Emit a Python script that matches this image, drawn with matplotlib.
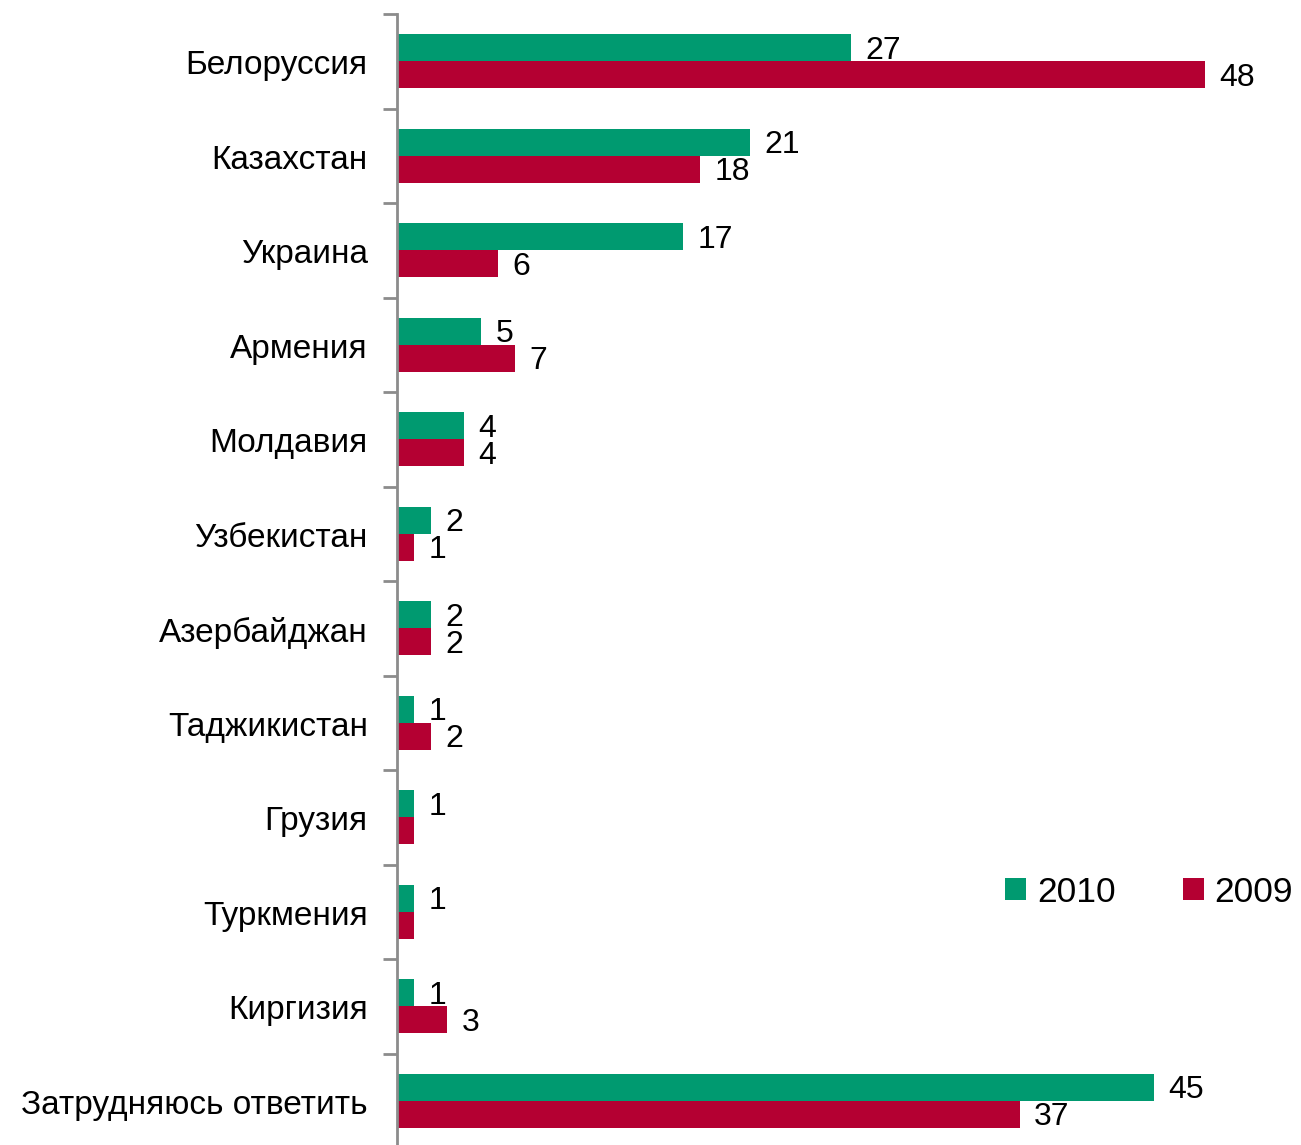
import matplotlib.pyplot as plt
import numpy as np

countries = ["Белоруссия", "Казахстан", "Украина", "Армения", "Молдавия",
             "Узбекистан", "Азербайджан", "Таджикистан", "Грузия",
             "Туркмения", "Киргизия", "Затрудняюсь ответить"]
vals_2010 = [27, 21, 17, 5, 4, 2, 2, 1, 1, 1, 1, 45]
vals_2009 = [48, 18, 6, 7, 4, 1, 2, 2, 1, 1, 3, 37]
# labels that are shown on the 2009 bars (some are hidden in the original)
labels_2009 = ["48", "18", "6", "7", "4", "1", "2", "2", None, None, "3", "37"]

green = "#009a70"
red = "#b40032"

plt.rcParams['font.family'] = ['Liberation Sans', 'DejaVu Sans']

fig = plt.figure(figsize=(13.01, 11.45), dpi=100)
ax = fig.add_axes([397 / 1301, -3 / 1145, 1 - 397 / 1301, 1134 / 1145])

y = np.arange(len(countries))
h = 0.285
ax.barh(y - h / 2, vals_2010, height=h, color=green, label="2010")
ax.barh(y + h / 2, vals_2009, height=h, color=red, label="2009")

fs = 24
dy = 0.03
for i in range(len(countries)):
    ax.text(vals_2010[i] + 0.85, y[i] - h / 2 + dy, str(vals_2010[i]),
            va="center", ha="left", fontsize=23)
    if labels_2009[i] is not None:
        ax.text(vals_2009[i] + 0.85, y[i] + h / 2 + dy, labels_2009[i],
                va="center", ha="left", fontsize=23)

ax.set_xlim(0, 904 / 16.83)
ax.set_ylim(len(countries) - 0.5, -0.5)
ax.set_xticks([])
ax.set_yticks(y + 0.01)
ax.set_yticklabels(countries, fontsize=fs)
ax.tick_params(axis="y", which="major", length=0, pad=21)
ax.set_yticks(np.arange(-0.5, len(countries), 1), minor=True)
ax.tick_params(axis="y", which="minor", length=10, width=2, color="#8c8c8c")
for s in ["top", "right", "bottom"]:
    ax.spines[s].set_visible(False)
ax.spines["left"].set_color("#8c8c8c")
ax.spines["left"].set_linewidth(2)

ax.legend(loc="center left", bbox_to_anchor=(0.6726, 0.2257), ncol=2,
          frameon=False, fontsize=25.5, handlelength=0.6, handleheight=0.6,
          handletextpad=0.3, columnspacing=1.9, borderpad=0,
          borderaxespad=0)

fig.savefig("out.png", dpi=100)
